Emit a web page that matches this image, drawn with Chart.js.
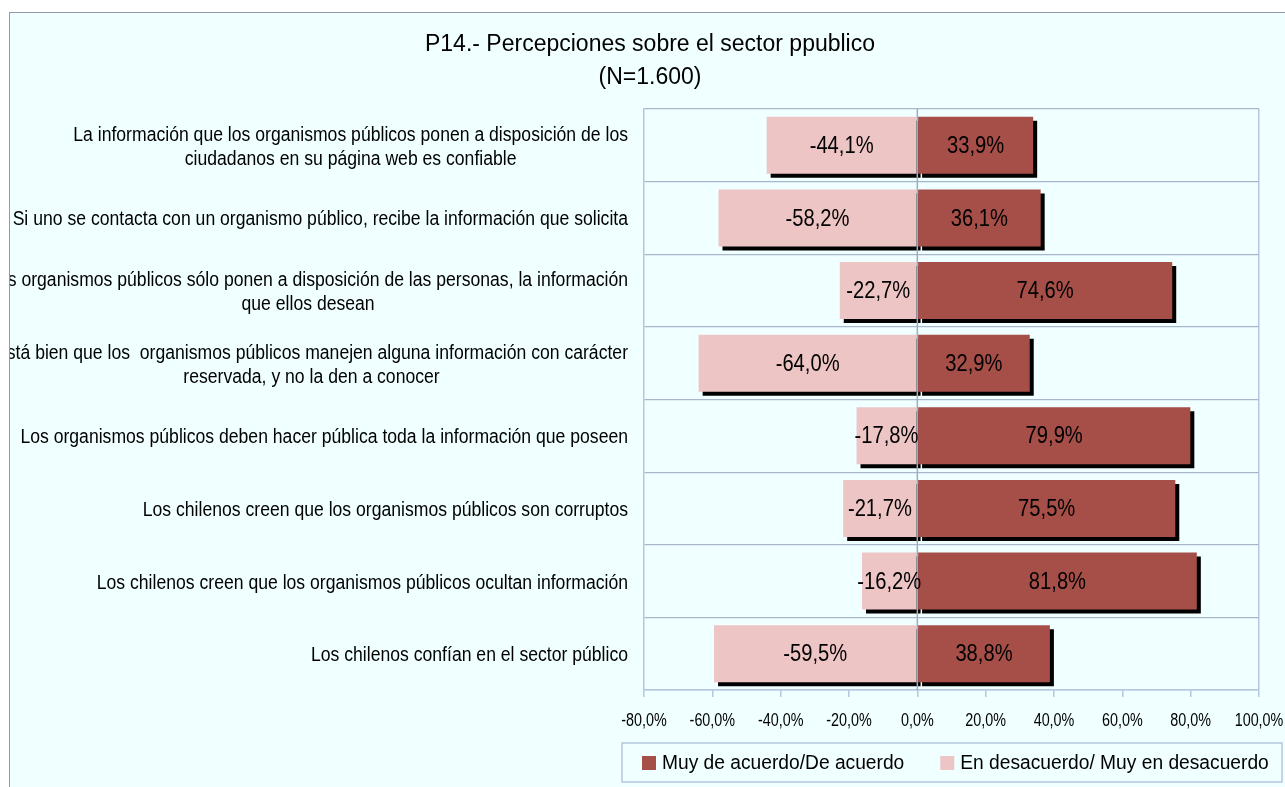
<!DOCTYPE html>
<html><head><meta charset="utf-8">
<script src="https://cdn.jsdelivr.net/npm/chart.js@4.4.1/dist/chart.umd.min.js"></script>
<style>
html,body{margin:0;padding:0;background:#fff;overflow:hidden;width:1285px;height:787px;}
#frame{position:absolute;left:9px;top:12px;width:1300px;height:800px;border-left:1px solid #8E99AD;border-top:1px solid #8E99AD;background:#F0FFFF;}
#wrap{position:absolute;left:10px;top:13px;width:1280px;height:774px;}
</style></head><body>
<div id="frame"></div>
<div id="wrap"><canvas id="c"></canvas></div>
<script>
const categories = [
  ['La información que los organismos públicos ponen a disposición de los', 'ciudadanos en su página web es confiable'],
  'Si uno se contacta con un organismo público, recibe la información que solicita',
  ['Los organismos públicos sólo ponen a disposición de las personas, la información', 'que ellos desean'],
  ['Está bien que los  organismos públicos manejen alguna información con carácter', 'reservada, y no la den a conocer'],
  'Los organismos públicos deben hacer pública toda la información que poseen',
  'Los chilenos creen que los organismos públicos son corruptos',
  'Los chilenos creen que los organismos públicos ocultan información',
  'Los chilenos confían en el sector público'
];
const agree = [33.9, 36.1, 74.6, 32.9, 79.9, 75.5, 81.8, 38.8];
const disagree = [-44.1, -58.2, -22.7, -64.0, -17.8, -21.7, -16.2, -59.5];
const seriesNames = ['Muy de acuerdo/De acuerdo', 'En desacuerdo/ Muy en desacuerdo'];
const seriesColors = ['#A64E48', '#EDC5C5'];
const xMin = -80, xMax = 100, xStep = 20;
const titleLines = ['P14.- Percepciones sobre el sector ppublico', '(N=1.600)'];

const FONT = "'Liberation Sans', Arial, sans-serif";
const GRID = '#A9B6CB';
const BORDER = '#B4C6E0';
const fmt = v => v.toFixed(1).replace('.', ',') + '%';

// draw text horizontally condensed (Arial Narrow look)
function cText(ctx, text, x, y, k, align) {
  ctx.save();
  ctx.translate(x, y);
  ctx.scale(k, 1);
  ctx.textAlign = align;
  ctx.fillText(text, 0, 0);
  ctx.restore();
}

const shadowPlugin = {
  id: 'shadow',
  beforeDatasetDraw(chart) {
    const ctx = chart.ctx;
    ctx.save();
    ctx.shadowColor = '#000';
    ctx.shadowOffsetX = 4;
    ctx.shadowOffsetY = 4;
    ctx.shadowBlur = 0;
  },
  afterDatasetDraw(chart) { chart.ctx.restore(); }
};

const overlayPlugin = {
  id: 'overlay',
  afterDatasetsDraw(chart) {
    const ctx = chart.ctx;
    const xs = chart.scales.x, ys = chart.scales.y;
    const area = chart.chartArea;
    // zero line above bars
    const x0 = xs.getPixelForValue(0);
    ctx.save();
    ctx.strokeStyle = '#9FADC4';
    ctx.lineWidth = 1.5;
    ctx.beginPath();
    ctx.moveTo(x0, area.top);
    ctx.lineTo(x0, area.bottom);
    ctx.stroke();
    ctx.fillStyle = '#000';
    ctx.textBaseline = 'middle';
    // data labels
    ctx.font = '24px ' + FONT;
    chart.data.datasets.forEach((ds, di) => {
      const meta = chart.getDatasetMeta(di);
      meta.data.forEach((bar, i) => {
        cText(ctx, fmt(ds.data[i]), (bar.x + bar.base) / 2, bar.y + 1, 0.84, 'center');
      });
    });
    // category labels (block centred, right aligned to axis)
    const kY = 0.88;
    ctx.font = '20px ' + FONT;
    const right = ys.right - 16;
    const lh = 24;
    chart.data.labels.forEach((lab, i) => {
      const lines = Array.isArray(lab) ? lab : [lab];
      const w = Math.max(...lines.map(l => ctx.measureText(l).width)) * kY;
      const cx = right - w / 2;
      const y = ys.getPixelForValue(i) + 2;
      lines.forEach((l, j) => cText(ctx, l, cx, y + (j - (lines.length - 1) / 2) * lh, kY, 'center'));
    });
    // x tick labels
    ctx.font = '17.5px ' + FONT;
    xs.ticks.forEach(t => {
      cText(ctx, fmt(t.value), xs.getPixelForValue(t.value), area.bottom + 31.5, 0.82, 'center');
    });
    ctx.restore();
  },
  afterDraw(chart) {
    const ctx = chart.ctx;
    ctx.save();
    ctx.fillStyle = '#000';
    ctx.textBaseline = 'middle';
    // title
    ctx.font = '23px ' + FONT;
    titleLines.forEach((l, j) => cText(ctx, l, chart.width / 2, 32 + j * 33, 1, 'center'));
    // legend
    const area = chart.chartArea;
    const right = chart.width - 8;
    const left = right - 660;
    const top = area.bottom + 53;
    const h = 39;
    ctx.strokeStyle = BORDER;
    ctx.lineWidth = 1.5;
    ctx.strokeRect(left, top, right - left, h);
    ctx.font = '20px ' + FONT;
    const kL = 0.96;
    let x = left + 20;
    chart.data.datasets.forEach(ds => {
      ctx.fillStyle = ds.backgroundColor;
      ctx.fillRect(x, top + 13, 14, 14);
      ctx.fillStyle = '#000';
      cText(ctx, ds.label, x + 20, top + h / 2 + 1, kL, 'left');
      x += 20 + ctx.measureText(ds.label).width * kL + 36;
    });
    ctx.restore();
  }
};

new Chart(document.getElementById('c'), {
  type: 'bar',
  data: {
    labels: categories,
    datasets: [
      { label: seriesNames[0], data: agree, backgroundColor: seriesColors[0], borderWidth: 0 },
      { label: seriesNames[1], data: disagree, backgroundColor: seriesColors[1], borderWidth: 0 }
    ]
  },
  options: {
    indexAxis: 'y',
    responsive: true,
    maintainAspectRatio: false,
    animation: false,
    datasets: { bar: { barPercentage: 1, categoryPercentage: 0.785 } },
    layout: { padding: { left: 0, right: 31, top: 96, bottom: 46 } },
    plugins: {
      legend: { display: false },
      tooltip: { enabled: false },
      title: { display: false }
    },
    scales: {
      x: {
        stacked: true,
        min: xMin, max: xMax,
        afterFit(s) { s.height = 51; },
        ticks: { stepSize: xStep, display: false },
        grid: {
          color: c => (c.tick && (c.tick.value === xMax)) ? BORDER : 'rgba(0,0,0,0)',
          tickColor: BORDER,
          tickLength: 7,
          lineWidth: 1.5
        },
        border: { display: true, color: BORDER, width: 1.5 }
      },
      y: {
        stacked: true,
        afterFit(s) { s.width = 634; },
        ticks: { display: false },
        grid: { color: GRID, drawTicks: false, offset: true, lineWidth: 1.2 },
        border: { display: true, color: BORDER, width: 1.5 }
      }
    }
  },
  plugins: [shadowPlugin, overlayPlugin]
});
</script>
</body></html>
